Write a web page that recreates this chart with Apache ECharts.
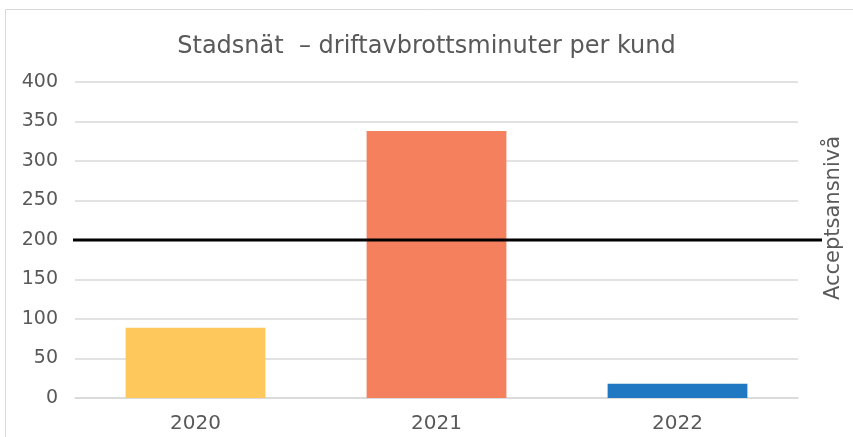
<!DOCTYPE html>
<html>
<head>
<meta charset="utf-8">
<script src="https://cdn.jsdelivr.net/npm/echarts@6/dist/echarts.min.js"></script>
<style>
  html, body { margin: 0; padding: 0; background: #fff; }
  #chart { width: 853px; height: 437px; }
</style>
</head>
<body>
<div id="chart"></div>
<script>
// data
const years = ['2020', '2021', '2022']
const minutes = [89, 338, 18]
const barColors = ['#FFC85C', '#F5805E', '#1F78C1']
const acceptLevel = 200
const yTicks = [0, 50, 100, 150, 200, 250, 300, 350, 400]

const chart = echarts.init(document.getElementById('chart'))
const font = '"DejaVu Sans", sans-serif'
const textColor = '#595959'

const option = {
  animation: false,
  title: {
    text: 'Stadsnät  – driftavbrottsminuter per kund',
    left: 'center',
    top: 30,
    textStyle: { fontFamily: font, fontSize: 24, fontWeight: 'normal', color: textColor }
  },
  graphic: [
    {
      type: 'rect',
      shape: { x: 5.5, y: 9.5, width: 860, height: 440 },
      style: { fill: 'none', stroke: '#d9d9d9', lineWidth: 1 },
      silent: true
    },
    {
      type: 'text',
      x: 834,
      y: 218,
      rotation: Math.PI / 2,
      style: {
        text: 'Acceptsansnivå',
        fontFamily: font,
        fontSize: 21,
        fill: textColor,
        align: 'center',
        verticalAlign: 'middle'
      }
    }
  ],
  grid: [
    { left: 75, right: 55, top: 82, bottom: 39 },
    { left: 73, right: 31, top: 82, bottom: 39 }
  ],
  xAxis: [
    {
      type: 'category',
      data: years,
      gridIndex: 0,
      axisLine: { lineStyle: { color: '#d9d9d9', width: 1.5 } },
      axisTick: { show: false },
      axisLabel: { fontFamily: font, fontSize: 20, color: textColor, margin: 16 }
    },
    {
      type: 'value',
      gridIndex: 1,
      min: 0,
      max: 1,
      show: false
    }
  ],
  yAxis: [
    {
      type: 'value',
      gridIndex: 0,
      min: yTicks[0],
      max: yTicks[yTicks.length - 1],
      interval: yTicks[1] - yTicks[0],
      axisLine: { show: false },
      axisTick: { show: false },
      axisLabel: { fontFamily: font, fontSize: 19, color: textColor, margin: 17 },
      splitLine: { lineStyle: { color: '#d9d9d9', width: 1.5 } }
    },
    {
      type: 'value',
      gridIndex: 1,
      min: yTicks[0],
      max: yTicks[yTicks.length - 1],
      show: false
    }
  ],
  series: [
    {
      type: 'bar',
      xAxisIndex: 0,
      yAxisIndex: 0,
      barCategoryGap: '42%',
      data: minutes.map((v, i) => ({ value: v, itemStyle: { color: barColors[i] } }))
    },
    {
      type: 'line',
      xAxisIndex: 1,
      yAxisIndex: 1,
      symbol: 'none',
      lineStyle: { color: '#000', width: 3 },
      data: [[0, acceptLevel], [1, acceptLevel]]
    }
  ]
}

chart.setOption(option)
</script>
</body>
</html>
